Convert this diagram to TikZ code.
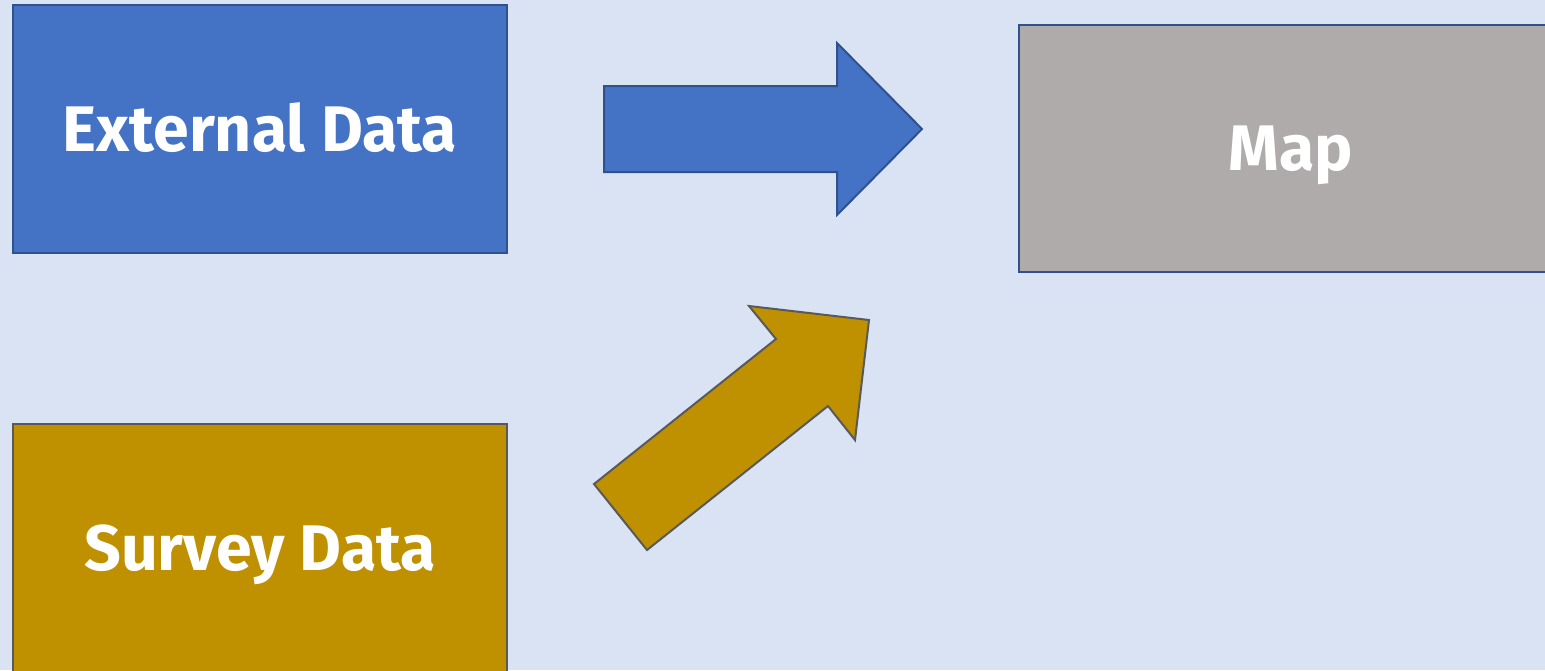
\documentclass[tikz,border=0pt]{standalone}
\usepackage{fontspec}
\setmainfont{Fira Sans}
\definecolor{sheetbg}{HTML}{DAE3F3}
\definecolor{extblue}{HTML}{4472C4}
\definecolor{edgeblue}{HTML}{2F528F}
\definecolor{surveygold}{HTML}{BF9000}
\definecolor{edgegray}{HTML}{595959}
\definecolor{mapgray}{HTML}{AFABAB}
\tikzset{
  databox/.style={draw, line width=1pt, rectangle, inner sep=0pt,
    text height=22pt, text depth=0pt,
    text=white, font=\bfseries\fontsize{32.2}{38}\selectfont},
  blockarrow/.style={line width=1pt, line join=miter}
}
\begin{document}
\begin{tikzpicture}[x=0.5pt, y=-0.5pt]
\useasboundingbox (0,0) rectangle (1545,670);
\clip (0,0) rectangle (1545,670);
\fill[sheetbg] (0,0) rectangle (1545,670); % background

% sources
\node[databox, fill=extblue, draw=edgeblue, minimum width=247pt, minimum height=124pt] (ext) at (260,129) {External Data};
\node[databox, fill=surveygold, draw=edgegray, minimum width=247pt, minimum height=124pt] (survey) at (260,548) {Survey Data};

% target
\node[databox, fill=mapgray, draw=edgeblue, minimum width=272pt, minimum height=123.5pt] (map) at (1291,148.5) {Map};

% arrows
\draw[blockarrow, fill=extblue, draw=edgeblue] (604,86) -- (837,86) -- (837,43) -- (922,129) -- (837,215) -- (837,172) -- (604,172) -- cycle ; % ext to map
\draw[blockarrow, fill=surveygold, draw=edgegray] (594,484) -- (776,339) -- (749,306) -- (869,320) -- (855,440) -- (828,406) -- (647,550) -- cycle ; % survey to map
\end{tikzpicture}
\end{document}
